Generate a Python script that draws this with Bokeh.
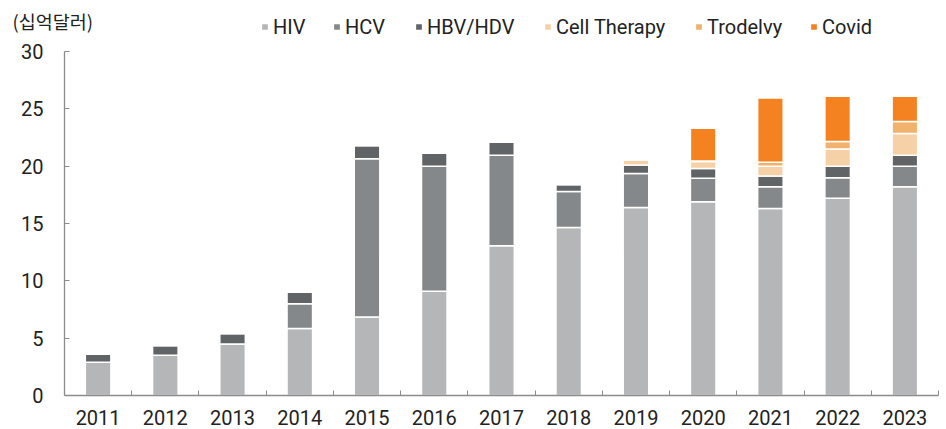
from bokeh.plotting import figure
from bokeh.models import Range1d, FixedTicker, Legend, LegendItem, Label, ColumnDataSource
from bokeh.embed import file_html
from bokeh.resources import INLINE

# ---- data (billions USD) ----
years = [2011, 2012, 2013, 2014, 2015, 2016, 2017, 2018, 2019, 2020, 2021, 2022, 2023]
hiv = [2.9, 3.5, 4.5, 5.85, 6.85, 9.1, 13.05, 14.65, 16.4, 16.9, 16.3, 17.2, 18.2]
hcv = [0.0, 0.0, 0.0, 2.15, 13.8, 10.9, 7.9, 3.15, 2.95, 2.05, 1.9, 1.8, 1.8]
hbv = [0.7, 0.85, 0.9, 1.0, 1.15, 1.15, 1.15, 0.6, 0.75, 0.85, 0.95, 1.0, 0.95]
cell = [0, 0, 0, 0, 0, 0, 0, 0, 0.45, 0.6, 0.85, 1.5, 1.9]
trodelvy = [0, 0, 0, 0, 0, 0, 0, 0, 0, 0.05, 0.35, 0.65, 1.05]
covid = [0, 0, 0, 0, 0, 0, 0, 0, 0, 2.85, 5.6, 3.95, 2.2]
segments = ["HIV", "HCV", "HBV/HDV", "Cell Therapy", "Trodelvy", "Covid"]
y_ticks = [0, 5, 10, 15, 20, 25, 30]
unit_label = "(십억달러)"

colors = ["#B5B6B8", "#85888A", "#616467", "#F6D0A6", "#F0B26C", "#F58220"]
FONT = "Roboto"
KFONT = "Noto Sans CJK KR"

# ---- layout (pixels) ----
W, H = 946, 429
AX_LEFT, AX_RIGHT, AX_TOP, AX_BOTTOM = 64, 938, 51, 395
LEGEND_X = [260, 332, 414, 543, 694, 809]   # left edge of each legend entry
LEGEND_CY = 27                              # vertical centre of legend row
x_lo, x_hi = years[0] - 0.5, years[-1] + 0.5
y_lo, y_hi = 0, 30
px_x = (AX_RIGHT - AX_LEFT) / (x_hi - x_lo)
px_y = (AX_BOTTOM - AX_TOP) / (y_hi - y_lo)

source = ColumnDataSource(dict(x=years, **dict(zip(segments, [hiv, hcv, hbv, cell, trodelvy, covid]))))

p = figure(width=W, height=H,
           x_range=Range1d(x_lo - AX_LEFT / px_x, x_hi + (W - AX_RIGHT) / px_x),
           y_range=Range1d(y_lo - (H - AX_BOTTOM) / px_y, y_hi + AX_TOP / px_y),
           output_backend="svg", toolbar_location=None,
           min_border_left=0, min_border_right=0, min_border_top=0, min_border_bottom=0)

renderers = p.vbar_stack(segments, x="x", width=0.38, fill_color=colors, line_color="white",
                         line_width=1.5, source=source)

LEG_H = 23
for s, r, lx in zip(segments, renderers, LEGEND_X):
    p.add_layout(Legend(items=[LegendItem(label=s, renderers=[r])],
                        orientation="horizontal", location=(lx, H - LEGEND_CY - LEG_H / 2),
                        glyph_width=9, glyph_height=9, label_standoff=4, spacing=0,
                        padding=0, margin=0, border_line_color=None, background_fill_alpha=0,
                        label_text_font=FONT, label_text_font_size="20px",
                        label_text_color="#222222"))

p.add_layout(Label(x=x_lo - (AX_LEFT - 12) / px_x, y=y_hi + (AX_TOP - 20) / px_y, text=unit_label,
                   text_font=KFONT, text_font_size="18.5px", text_color="#222222",
                   text_baseline="middle", text_align="left"))

# axes
xa = p.xaxis[0]
xa.fixed_location = y_lo
xa.bounds = (x_lo, x_hi)
xa.ticker = FixedTicker(ticks=years, minor_ticks=[y + 0.5 for y in years])
xa.major_label_overrides = {y: str(y) for y in years}
xa.major_tick_in = 0
xa.major_tick_out = 0
xa.minor_tick_in = 5
xa.minor_tick_out = 0
xa.minor_tick_line_color = "#8C8C8C"
xa.axis_line_color = "#8C8C8C"
xa.axis_line_width = 1.3
xa.major_label_standoff = 14
xa.major_label_text_font = FONT
xa.major_label_text_font_size = "20px"
xa.major_label_text_color = "#222222"

ya = p.yaxis[0]
ya.fixed_location = x_lo
ya.bounds = (y_lo, y_hi)
ya.ticker = FixedTicker(ticks=y_ticks)
ya.major_tick_in = 5
ya.major_tick_out = 0
ya.minor_tick_in = 0
ya.minor_tick_out = 0
ya.major_tick_line_color = "#8C8C8C"
ya.axis_line_color = "#8C8C8C"
ya.axis_line_width = 1.3
ya.major_label_standoff = 21
ya.major_label_text_font = FONT
ya.major_label_text_font_size = "20px"
ya.major_label_text_color = "#222222"

p.grid.visible = False
p.outline_line_color = None

open("out.html", "w").write(file_html(p, INLINE))
